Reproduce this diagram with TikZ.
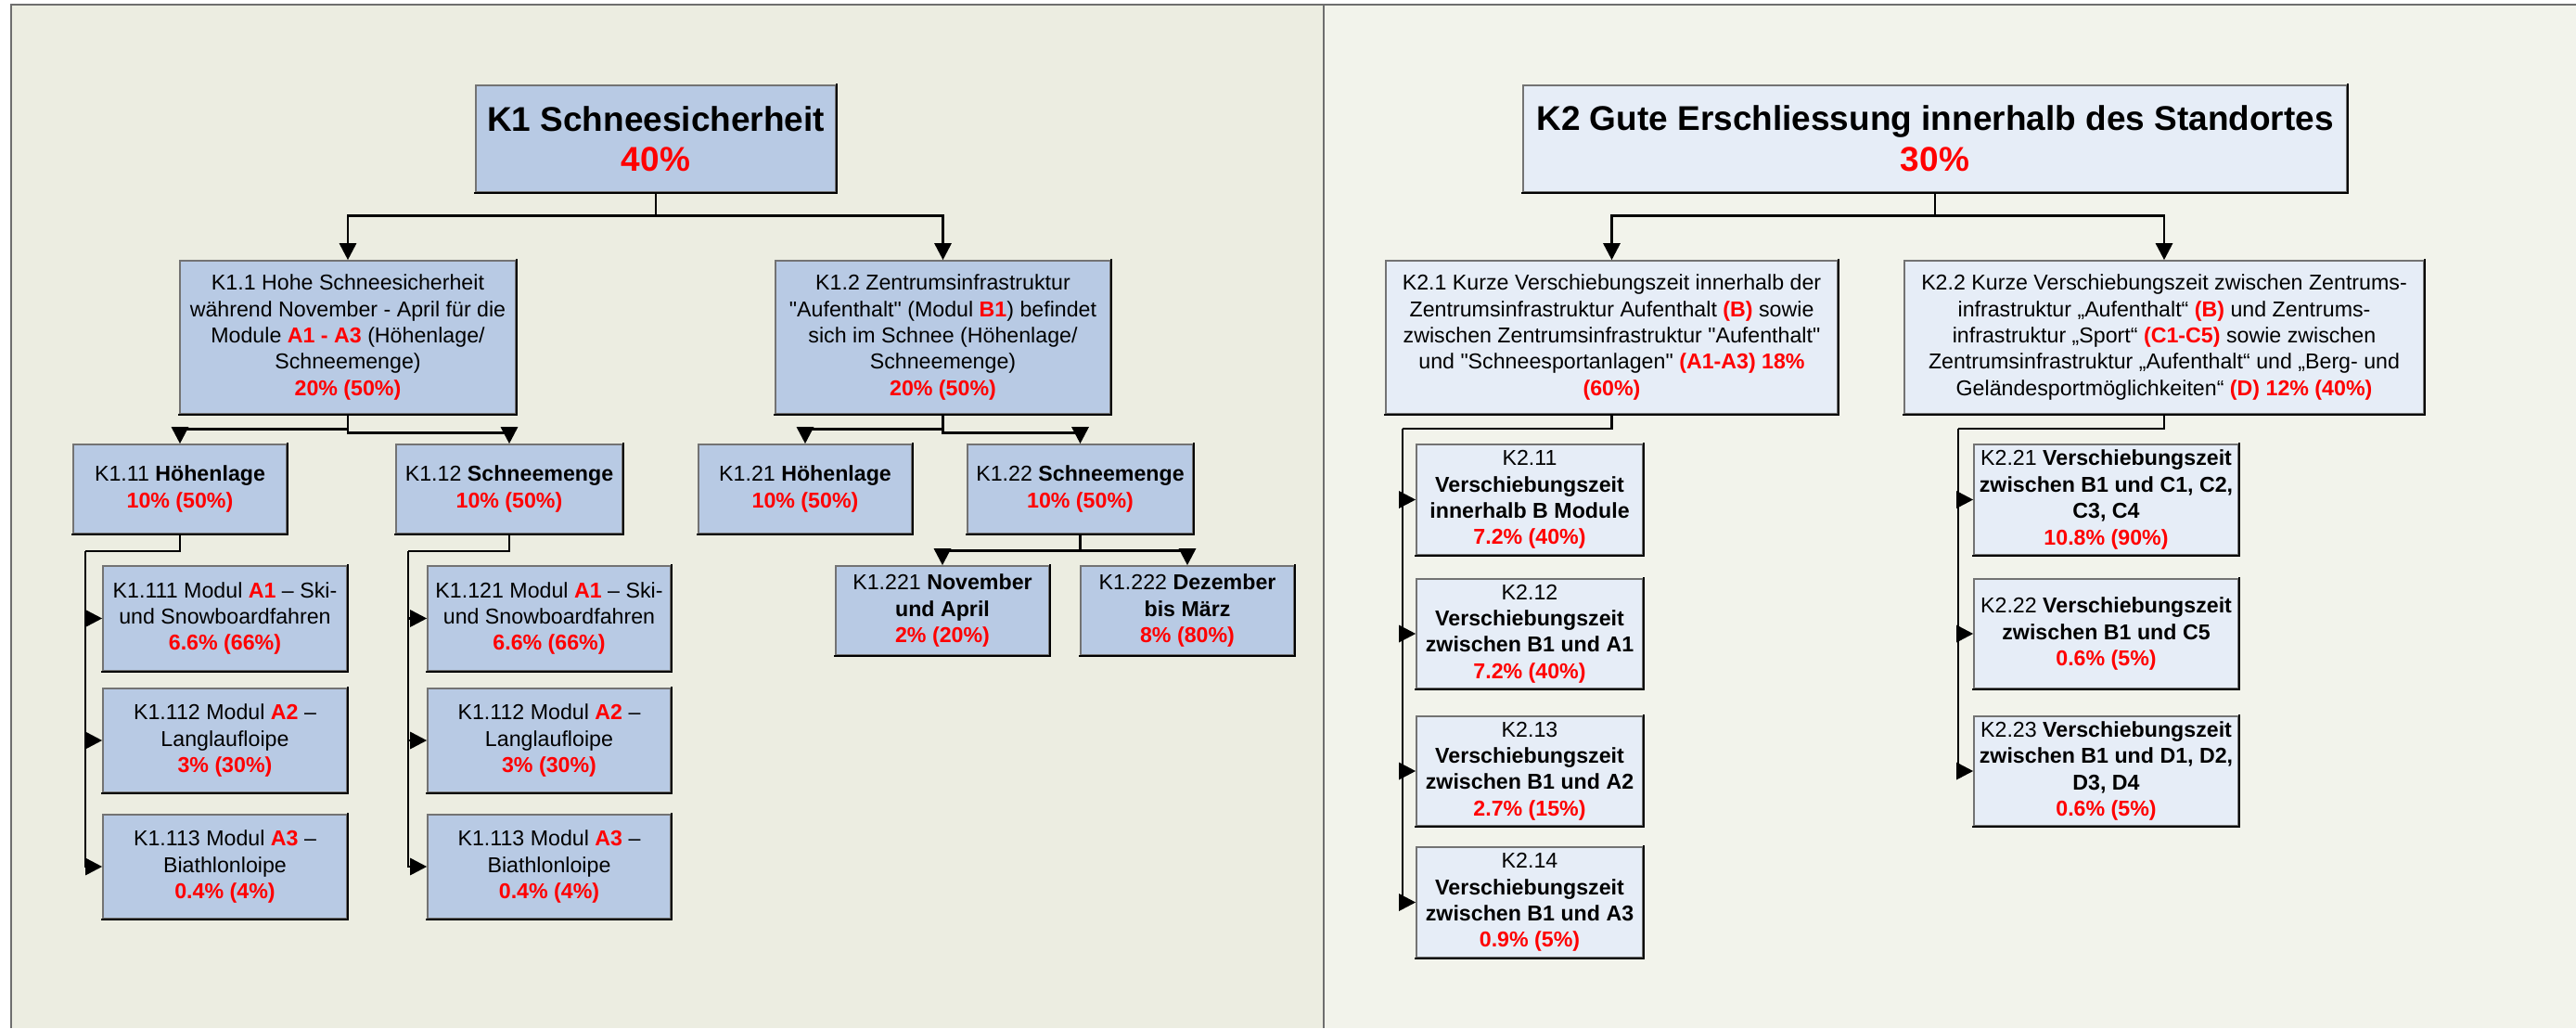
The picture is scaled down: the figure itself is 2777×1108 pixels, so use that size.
\documentclass[tikz,border=0pt]{standalone}
\usepackage{fontspec}
\setmainfont{Liberation Sans}[Ligatures=TeXOff]
\usetikzlibrary{arrows.meta}
\definecolor{leftbg}{HTML}{ECEDE1}
\definecolor{rightbg}{HTML}{F2F3EB}
\definecolor{kfill}{HTML}{B8CAE4}
\definecolor{kkfill}{HTML}{E6EDF7}
\definecolor{rd}{HTML}{FF0000}
\definecolor{framegray}{HTML}{6E6E6E}
\newcommand\rt[1]{\textcolor{rd}{\textbf{#1}}}
\begin{document}
\begin{tikzpicture}[x=0.5pt,y=-0.5pt,
  box/.style={draw=black!55, line width=0.8pt, inner sep=0pt, align=center,
    font=\fontsize{11.6}{14.2}\selectfont},
  boxa/.style={box, fill=kfill},
  boxb/.style={box, fill=kkfill},
  titletext/.style={font=\fontsize{18.5}{21.7}\selectfont\bfseries},
  shade/.style={line width=0.9pt, black, line cap=rect},
  conn/.style={line width=1.4pt, black},
  arr/.style={conn, -{Triangle[length=9pt,width=9pt]}}]
\useasboundingbox (0,0) rectangle (2777,1108);
\fill[white] (0,0) rectangle (2777,1108);
\fill[leftbg] (12,5) rectangle (1427,1108);
\fill[rightbg] (1427,5) rectangle (2777,1108);
\draw[framegray, line width=1pt] (12,1108) -- (12,5) -- (2777,5);
\draw[framegray, line width=1pt] (1427,5) -- (1427,1108);

% ---------- K1 ----------
\node[boxa, titletext, minimum width=194pt, minimum height=57.5pt] (K1) at (707,149.5)
  {K1 Schneesicherheit\\\textcolor{rd}{40\%}};
\node[boxa, minimum width=181pt, minimum height=82.5pt] (K11) at (375,363.5)
  {K1.1 Hohe Schneesicherheit\\während November - April für die\\Module \rt{A1 - A3} (Höhenlage/\\Schneemenge)\\\rt{20\% (50\%)}};
\node[boxa, minimum width=180.5pt, minimum height=82.5pt] (K12) at (1016.5,363.5)
  {K1.2 Zentrumsinfrastruktur\\"Aufenthalt" (Modul \rt{B1}) befindet\\sich im Schnee (Höhenlage/\\Schneemenge)\\\rt{20\% (50\%)}};
\node[boxa, minimum width=115pt, minimum height=48pt] (K111) at (194,527)
  {K1.11 \textbf{Höhenlage}\\\rt{10\% (50\%)}};
\node[boxa, minimum width=122pt, minimum height=48pt] (K112) at (549,527)
  {K1.12 \textbf{Schneemenge}\\\rt{10\% (50\%)}};
\node[boxa, minimum width=115pt, minimum height=48pt] (K121) at (868,527)
  {K1.21 \textbf{Höhenlage}\\\rt{10\% (50\%)}};
\node[boxa, minimum width=121.5pt, minimum height=48pt] (K122) at (1164.5,527)
  {K1.22 \textbf{Schneemenge}\\\rt{10\% (50\%)}};

\node[boxa, minimum width=131.5pt, minimum height=56.5pt] (K1111) at (242.5,666.5)
  {K1.111 Modul \rt{A1} – Ski-\\und Snowboardfahren\\\rt{6.6\% (66\%)}};
\node[boxa, minimum width=131.5pt, minimum height=56pt] (K1112) at (242.5,798)
  {K1.112 Modul \rt{A2} –\\Langlaufloipe\\\rt{3\% (30\%)}};
\node[boxa, minimum width=131.5pt, minimum height=56pt] (K1113) at (242.5,934)
  {K1.113 Modul \rt{A3} –\\Biathlonloipe\\\rt{0.4\% (4\%)}};
\node[boxa, minimum width=131pt, minimum height=56.5pt] (K1121) at (592,666.5)
  {K1.121 Modul \rt{A1} – Ski-\\und Snowboardfahren\\\rt{6.6\% (66\%)}};
\node[boxa, minimum width=131pt, minimum height=56pt] (K1122) at (592,798)
  {K1.112 Modul \rt{A2} –\\Langlaufloipe\\\rt{3\% (30\%)}};
\node[boxa, minimum width=131pt, minimum height=56pt] (K1123) at (592,934)
  {K1.113 Modul \rt{A3} –\\Biathlonloipe\\\rt{0.4\% (4\%)}};
\node[boxa, minimum width=115pt, minimum height=48pt] (K1221) at (1016,658)
  {K1.221 \textbf{November}\\\textbf{und April}\\\rt{2\% (20\%)}};
\node[boxa, minimum width=115pt, minimum height=48pt] (K1222) at (1280,658)
  {K1.222 \textbf{Dezember}\\\textbf{bis März}\\\rt{8\% (80\%)}};

% ---------- K2 ----------
\node[boxb, titletext, minimum width=444pt, minimum height=57.5pt] (K2) at (2086,149.5)
  {K2 Gute Erschliessung innerhalb des Standortes\\\textcolor{rd}{30\%}};
\node[boxb, minimum width=243.5pt, minimum height=82.5pt] (K21) at (1737.5,363.5)
  {K2.1 Kurze Verschiebungszeit innerhalb der\\Zentrumsinfrastruktur Aufenthalt \rt{(B)} sowie\\zwischen Zentrumsinfrastruktur "Aufenthalt"\\und "Schneesportanlagen" \rt{(A1-A3) 18\%}\\\rt{(60\%)}};
\node[boxb, minimum width=280pt, minimum height=82.5pt] (K22) at (2333,363.5)
  {K2.2 Kurze Verschiebungszeit zwischen Zentrums-\\infrastruktur „Aufenthalt“ \rt{(B)} und Zentrums-\\infrastruktur „Sport“ \rt{(C1-C5)} sowie zwischen\\Zentrumsinfrastruktur „Aufenthalt“ und „Berg- und\\Geländesportmöglichkeiten“ \rt{(D) 12\% (40\%)}};
\node[boxb, minimum width=122pt, minimum height=59.5pt] (K211) at (1649,538.5)
  {K2.11\\\textbf{Verschiebungszeit}\\\textbf{innerhalb B Module}\\\rt{7.2\% (40\%)}};
\node[boxb, minimum width=122pt, minimum height=59pt] (K212) at (1649,683)
  {K2.12\\\textbf{Verschiebungszeit}\\\textbf{zwischen B1 und A1}\\\rt{7.2\% (40\%)}};
\node[boxb, minimum width=122pt, minimum height=59pt] (K213) at (1649,831)
  {K2.13\\\textbf{Verschiebungszeit}\\\textbf{zwischen B1 und A2}\\\rt{2.7\% (15\%)}};
\node[boxb, minimum width=122pt, minimum height=59.5pt] (K214) at (1649,972.5)
  {K2.14\\\textbf{Verschiebungszeit}\\\textbf{zwischen B1 und A3}\\\rt{0.9\% (5\%)}};
\node[boxb, minimum width=142.5pt, minimum height=59.5pt] (K221) at (2270.5,538.5)
  {K2.21 \textbf{Verschiebungszeit}\\\textbf{zwischen B1 und C1, C2,}\\\textbf{C3, C4}\\\rt{10.8\% (90\%)}};
\node[boxb, minimum width=142.5pt, minimum height=59pt] (K222) at (2270.5,683)
  {K2.22 \textbf{Verschiebungszeit}\\\textbf{zwischen B1 und C5}\\\rt{0.6\% (5\%)}};
\node[boxb, minimum width=142.5pt, minimum height=59pt] (K223) at (2270.5,831)
  {K2.23 \textbf{Verschiebungszeit}\\\textbf{zwischen B1 und D1, D2,}\\\textbf{D3, D4}\\\rt{0.6\% (5\%)}};

% darker bottom/right edges of the boxes
\foreach \n in {K1,K11,K12,K111,K112,K121,K122,K1111,K1112,K1113,K1121,K1122,K1123,K1221,K1222,
                K2,K21,K22,K211,K212,K213,K214,K221,K222,K223}
  \draw[shade] (\n.south west) -- (\n.south east) -- (\n.north east);

% ---------- connectors K1 ----------
\draw[arr] (K1.south) -- ++(0,25) -| (K11.north);
\draw[arr] (K1.south) -- ++(0,25) -| (K12.north);
\draw[arr] (K11.south) -- ++(0,16) -| (K111.north);
\draw[arr] (K11.south) -- ++(0,20) -| (K112.north);
\draw[arr] (K12.south) -- ++(0,16) -| (K121.north);
\draw[arr] (K12.south) -- ++(0,20) -| (K122.north);
\draw[arr] (K122.south) -- ++(0,18) -| (K1221.north);
\draw[arr] (K122.south) -- ++(0,18) -| (K1222.north);

\coordinate (c111) at (92,594);
\draw[conn] (K111.south) |- (c111);
\foreach \n in {K1111,K1112,K1113} \draw[arr] (c111) |- (\n.west);
\coordinate (c112) at (440,594);
\draw[conn] (K112.south) |- (c112);
\foreach \n in {K1121,K1122,K1123} \draw[arr] (c112) |- (\n.west);

% ---------- connectors K2 ----------
\draw[arr] (K2.south) -- ++(0,25) -| (K21.north);
\draw[arr] (K2.south) -- ++(0,25) -| (K22.north);
\coordinate (c21) at (1512,462);
\draw[conn] (K21.south) |- (c21);
\foreach \n in {K211,K212,K213,K214} \draw[arr] (c21) |- (\n.west);
\coordinate (c22) at (2111,462);
\draw[conn] (K22.south) |- (c22);
\foreach \n in {K221,K222,K223} \draw[arr] (c22) |- (\n.west);
\end{tikzpicture}
\end{document}
